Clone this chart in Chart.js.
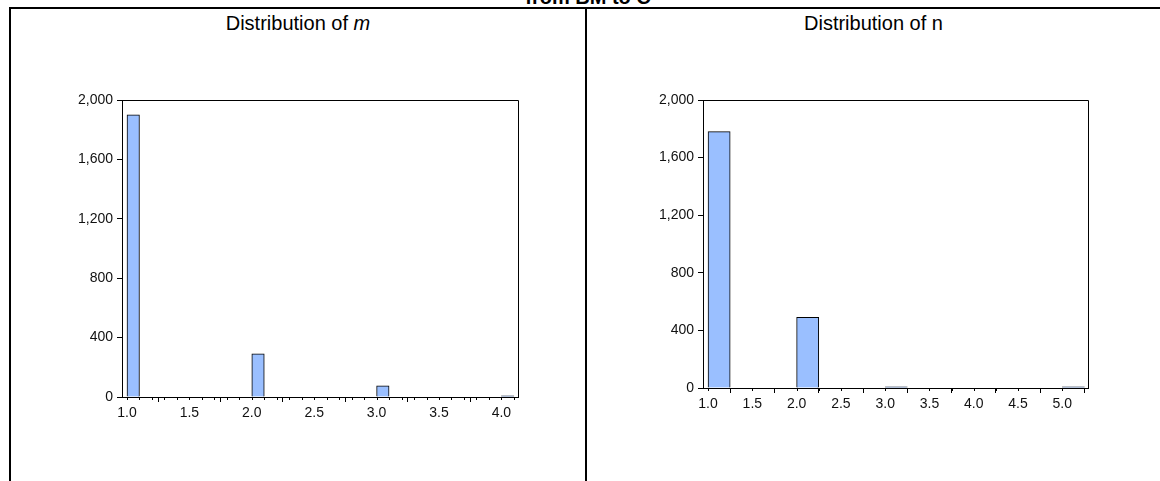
<!DOCTYPE html>
<html>
<head>
<meta charset="utf-8">
<script src="https://cdn.jsdelivr.net/npm/chart.js@4"></script>
<style>
  html, body { margin: 0; padding: 0; background: #fff; width: 1160px; height: 481px; overflow: hidden; position: relative; font-family: "Liberation Sans", Arial, sans-serif; }
  .line { position: absolute; background: #000; }
  .title { position: absolute; font-size: 20px; color: #000; white-space: nowrap; text-align: center; }
  canvas { position: absolute; top: 0; }
</style>
</head>
<body>
<div class="title" style="left:388px; width:400px; top:-13px; font-weight:bold; line-height:20px;">from BM to C</div>
<div class="line" style="left:9px; top:7px; right:0; height:2px;"></div>
<div class="line" style="left:9px; top:7px; bottom:0; width:2px;"></div>
<div class="line" style="left:585px; top:7px; bottom:0; width:2px;"></div>
<div class="title" style="left:11px; width:574px; top:11px; line-height:24px;">Distribution of <i>m</i></div>
<div class="title" style="left:587px; width:573px; top:11px; line-height:24px;">Distribution of n</div>

<canvas id="cm" width="586" height="481" style="left:0; width:586px; height:481px;"></canvas>
<canvas id="cn" width="574" height="481" style="left:586px; width:574px; height:481px;"></canvas>

<script>
// ---- Distribution of m (bin width 0.1) ----
const mBinStart = [1.0,1.1,1.2,1.3,1.4,1.5,1.6,1.7,1.8,1.9,2.0,2.1,2.2,2.3,2.4,2.5,2.6,2.7,2.8,2.9,3.0,3.1,3.2,3.3,3.4,3.5,3.6,3.7,3.8,3.9,4.0];
const mCounts   = [1900,0,0,0,0,0,0,0,0,0,290,0,0,0,0,0,0,0,0,0,75,0,0,0,0,0,0,0,0,0,8];
const mBinWidth = 0.1;
const mXTicks   = [1.0,1.5,2.0,2.5,3.0,3.5,4.0];
const mXRange   = [0.96, 4.133];

// ---- Distribution of n (bin width 0.25) ----
const nBinStart = [1.0,1.25,1.5,1.75,2.0,2.25,2.5,2.75,3.0,3.25,3.5,3.75,4.0,4.25,4.5,4.75,5.0];
const nCounts   = [1780,0,0,0,490,0,0,0,8,0,0,0,0,0,0,0,8];
const nBinWidth = 0.25;
const nXTicks   = [1.0,1.5,2.0,2.5,3.0,3.5,4.0,4.5,5.0];
const nXRange   = [0.943, 5.29];

const yTicks = [0,400,800,1200,1600,2000];

const BAR_FILL = '#9abfff';
const TICK_FONT = { family: 'Liberation Sans', size: 14 };
const TEXT_COLOR = '#111';

const framePlugin = {
  id: 'frame',
  afterDraw(chart, args, opts) {
    const { ctx, chartArea: a } = chart;
    const xs = chart.scales.x;
    ctx.save();
    ctx.strokeStyle = '#000';
    ctx.lineWidth = 1;
    ctx.beginPath();
    ctx.moveTo(Math.round(a.left) + 0.5, Math.round(a.top) + 0.5);
    ctx.lineTo(Math.round(a.right) + 0.5, Math.round(a.top) + 0.5);
    ctx.lineTo(Math.round(a.right) + 0.5, Math.round(a.bottom) + 0.5);
    ctx.stroke();
    // minor ticks at bin edges
    ctx.beginPath();
    (opts.edges || []).forEach(v => {
      const px = Math.round(xs.getPixelForValue(v)) + 0.5;
      ctx.moveTo(px, Math.round(a.bottom));
      ctx.lineTo(px, Math.round(a.bottom) + 3);
    });
    ctx.stroke();
    ctx.restore();
  }
};

function makeHist(id, starts, counts, width, xTicks, xRange, pad, yAxisW) {
  const data = starts.map((s, i) => ({ x: s + width / 2, y: counts[i] }));
  const edges = starts.concat([starts[starts.length - 1] + width]);
  return new Chart(document.getElementById(id), {
    type: 'bar',
    data: { datasets: [{
      data,
      backgroundColor: c => (c.raw && c.raw.y > 0) ? BAR_FILL : 'rgba(0,0,0,0)',
      borderColor: '#000',
      borderWidth: c => (c.raw && c.raw.y > 0) ? 1 : 0,
      borderSkipped: 'start',
      barPercentage: 1.0,
      categoryPercentage: 1.0
    }]},
    options: {
      responsive: false,
      animation: false,
      events: [],
      layout: { padding: pad },
      plugins: { legend: { display: false }, tooltip: { enabled: false }, frame: { edges } },
      scales: {
        x: {
          type: 'linear',
          min: xRange[0], max: xRange[1],
          offset: false,
          afterBuildTicks: s => { s.ticks = xTicks.map(v => ({ value: v })); },
          afterFit: s => { s.height = 30; },
          grid: { drawOnChartArea: false, drawTicks: true, tickLength: 5, tickColor: '#000' },
          border: { display: true, color: '#000', width: 1 },
          ticks: { font: TICK_FONT, color: TEXT_COLOR, padding: 3, maxRotation: 0, autoSkip: false,
                   callback: v => Number(v).toFixed(1) }
        },
        y: {
          min: 0, max: 2000,
          afterBuildTicks: s => { s.ticks = yTicks.map(v => ({ value: v })); },
          afterFit: s => { s.width = yAxisW; },
          grid: { drawOnChartArea: false, drawTicks: true, tickLength: 5, tickColor: '#000' },
          border: { display: true, color: '#000', width: 1 },
          ticks: { font: TICK_FONT, color: TEXT_COLOR, padding: 4,
                   callback: v => Number(v).toLocaleString('en-US') }
        }
      }
    },
    plugins: [framePlugin]
  });
}

makeHist('cm', mBinStart, mCounts, mBinWidth, mXTicks, mXRange,
         { top: 100, left: 0, right: 68, bottom: 54 }, 122);
makeHist('cn', nBinStart, nCounts, nBinWidth, nXTicks, nXRange,
         { top: 100, left: 0, right: 72, bottom: 63 }, 117);
</script>
</body>
</html>
